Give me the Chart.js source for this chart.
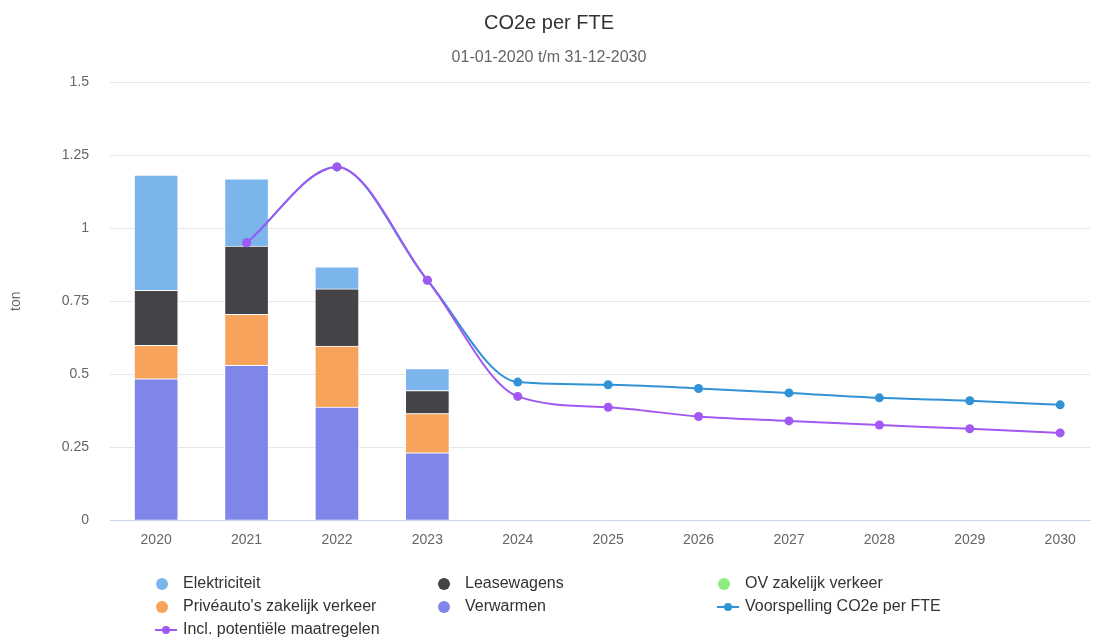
<!DOCTYPE html>
<html>
<head>
<meta charset="utf-8">
<script src="https://cdn.jsdelivr.net/npm/chart.js@4"></script>
<style>
  body { margin: 0; background: #fff; font-family: "Liberation Sans", Arial, sans-serif; }
  #wrap { position: relative; width: 1095px; height: 637px; }
  #legend { position: absolute; left: 0; top: 0; width: 1095px; height: 637px; pointer-events: none; }
  .item { position: absolute; font-size: 16px; color: #333; white-space: nowrap; }
  .dot { position: absolute; width: 12px; height: 12px; border-radius: 50%; }
  .ln { position: absolute; width: 22px; height: 2px; }
  .ln i { position: absolute; left: 7px; top: -3px; width: 8px; height: 8px; border-radius: 50%; }
</style>
</head>
<body>
<div id="wrap">
  <canvas id="myChart" width="1095" height="637"></canvas>
  <div id="legend"></div>
</div>
<script>
// Data
const years = [2020, 2021, 2022, 2023, 2024, 2025, 2026, 2027, 2028, 2029, 2030];
const yTicks = [0, 0.25, 0.5, 0.75, 1, 1.25, 1.5];

const verwarmen     = [0.484, 0.530, 0.387, 0.231, null, null, null, null, null, null, null];
const priveauto     = [0.115, 0.175, 0.209, 0.134, null, null, null, null, null, null, null];
const ovZakelijk    = [0, 0, 0, 0, null, null, null, null, null, null, null];
const leasewagens   = [0.188, 0.234, 0.196, 0.079, null, null, null, null, null, null, null];
const elektriciteit = [0.395, 0.230, 0.076, 0.075, null, null, null, null, null, null, null];
const voorspelling  = [null, 0.950, 1.210, 0.822, 0.473, 0.464, 0.451, 0.436, 0.419, 0.409, 0.395];
const maatregelen   = [null, 0.950, 1.210, 0.822, 0.424, 0.387, 0.355, 0.340, 0.326, 0.313, 0.299];

function points(values) {
    return years.map((y, i) => ({ x: y, y: values[i] })).filter(p => p.y !== null);
}

function barSet(label, values, color) {
    return {
        type: 'bar', label: label, data: points(values),
        backgroundColor: color, borderColor: '#ffffff', borderWidth: 1,
        barThickness: 44, stack: 'bars', order: 2
    };
}

function lineSet(label, values, color, stack, order) {
    return {
        type: 'line', label: label, data: points(values),
        borderColor: color, backgroundColor: color, borderWidth: 2,
        pointRadius: 4.5, pointBorderWidth: 0, cubicInterpolationMode: 'monotone',
        fill: false, stack: stack, order: order
    };
}

const datasets = [
    barSet('Verwarmen', verwarmen, '#8085e9'),
    barSet("Privéauto's zakelijk verkeer", priveauto, '#f7a35c'),
    barSet('OV zakelijk verkeer', ovZakelijk, '#90ed7d'),
    barSet('Leasewagens', leasewagens, '#434348'),
    barSet('Elektriciteit', elektriciteit, '#7cb5ec'),
    lineSet('Voorspelling CO2e per FTE', voorspelling, '#3292d6', 'fc', 1),
    lineSet('Incl. potentiële maatregelen', maatregelen, '#a259f4', 'pm', 0)
];

const ctx = document.getElementById('myChart').getContext('2d');
const myChart = new Chart(ctx, {
    data: { datasets: datasets },
    options: {
        responsive: false,
        animation: false,
        layout: { padding: { left: 8, right: 5, top: 0, bottom: 76 } },
        plugins: {
            legend: { display: false },
            tooltip: { enabled: false },
            title: {
                display: true, text: 'CO2e per FTE', color: '#333333',
                font: { family: '"Liberation Sans", Arial', size: 20, weight: 'normal' },
                padding: { top: 11, bottom: 13 }
            },
            subtitle: {
                display: true, text: '01-01-2020 t/m 31-12-2030', color: '#666666',
                font: { family: '"Liberation Sans", Arial', size: 16 },
                padding: { top: 0, bottom: 15 }
            }
        },
        scales: {
            x: {
                type: 'linear', stacked: true, offset: false,
                min: 2019.49, max: 2030.33,
                afterBuildTicks: axis => { axis.ticks = years.map(v => ({ value: v })); },
                ticks: {
                    color: '#666666', padding: 12,
                    font: { family: '"Liberation Sans", Arial', size: 14 },
                    callback: v => String(v)
                },
                grid: { display: false, drawTicks: false },
                border: { display: true, color: '#ccd6eb', width: 1 }
            },
            y: {
                stacked: true, min: 0, max: 1.5,
                afterBuildTicks: axis => { axis.ticks = yTicks.map(v => ({ value: v })); },
                ticks: {
                    color: '#666666', padding: 21,
                    font: { family: '"Liberation Sans", Arial', size: 14 },
                    callback: v => String(v)
                },
                grid: { color: '#e6e6e6', drawTicks: false },
                border: { display: false },
                title: {
                    display: true, text: 'ton', color: '#666666',
                    font: { family: '"Liberation Sans", Arial', size: 14 },
                    padding: { top: 0, bottom: 16 }
                }
            }
        }
    }
});

// Legend laid out in three columns like the original
const legendOrder = [
    ['Elektriciteit', 0, 0], ['Leasewagens', 1, 0], ['OV zakelijk verkeer', 2, 0],
    ["Privéauto's zakelijk verkeer", 0, 1], ['Verwarmen', 1, 1], ['Voorspelling CO2e per FTE', 2, 1],
    ['Incl. potentiële maatregelen', 0, 2]
];
const colX = [155, 437, 717];
const rowY = [584, 607, 630];
const legendDiv = document.getElementById('legend');
legendOrder.forEach(([label, col, row]) => {
    const ds = datasets.find(d => d.label === label);
    const x = colX[col], y = rowY[row];
    if (ds.type === 'bar') {
        const dot = document.createElement('div');
        dot.className = 'dot';
        dot.style.left = (x + 1) + 'px';
        dot.style.top = (y - 6) + 'px';
        dot.style.background = ds.backgroundColor;
        legendDiv.appendChild(dot);
    } else {
        const ln = document.createElement('div');
        ln.className = 'ln';
        ln.style.left = x + 'px';
        ln.style.top = (y - 1) + 'px';
        ln.style.background = ds.borderColor;
        ln.innerHTML = '<i style="background:' + ds.borderColor + '"></i>';
        legendDiv.appendChild(ln);
    }
    const txt = document.createElement('div');
    txt.className = 'item';
    txt.textContent = label;
    txt.style.left = (x + 28) + 'px';
    txt.style.top = (y - 10) + 'px';
    legendDiv.appendChild(txt);
});
</script>
</body>
</html>
